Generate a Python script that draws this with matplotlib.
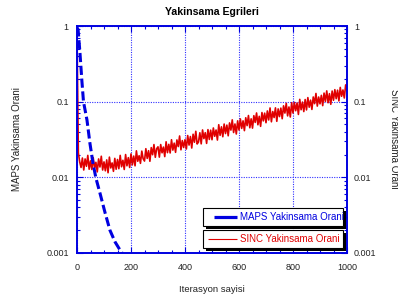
import numpy as np
import matplotlib
matplotlib.use("Agg")
import matplotlib.pyplot as plt
from matplotlib.patches import Rectangle
from matplotlib.ticker import LogLocator, NullFormatter, MultipleLocator

plt.rcParams['font.family'] = ['Liberation Sans', 'DejaVu Sans']

# MAPS convergence
maps_x = [0, 4, 11, 18, 24, 37, 48, 59, 70, 85, 104, 122, 141, 159, 167]
maps_y = [0.95, 0.9, 0.44, 0.19, 0.1, 0.057, 0.028, 0.0155, 0.0098, 0.0062,
          0.0034, 0.002, 0.0014, 0.0011, 0.001]

# SINC convergence, every 5 iterations
sinc_x = np.arange(0, 1001, 5)
sinc_y = [
    0.80, 0.021, 0.016, 0.0135, 0.018, 0.0125, 0.0175, 0.014, 0.0195, 0.0128,
    0.0165, 0.0127, 0.0182, 0.0132, 0.0158, 0.0118, 0.0175, 0.0137, 0.0190, 0.0125,
    0.0160, 0.0122, 0.0170, 0.0115, 0.0185, 0.0133, 0.0155, 0.0120, 0.0178, 0.0128,
    0.0172, 0.0130, 0.0195, 0.0138, 0.0168, 0.0127, 0.0200, 0.0142, 0.0182, 0.0135,
    0.0204, 0.0146, 0.0191, 0.0142, 0.0224, 0.0163, 0.0193, 0.0153, 0.0222, 0.0176,
    0.0164, 0.0239, 0.0178, 0.0225, 0.0163, 0.0247, 0.0199, 0.0271, 0.0184, 0.0239,
    0.0253, 0.0185, 0.0271, 0.0211, 0.0251, 0.0188, 0.0295, 0.0212, 0.0273, 0.0210,
    0.0314, 0.0229, 0.0283, 0.0214, 0.0312, 0.0255, 0.0352, 0.0231, 0.0306, 0.0248,
    0.0314, 0.0237, 0.0357, 0.0267, 0.0346, 0.0244, 0.0371, 0.0291, 0.0406, 0.0276,
    0.0293, 0.0388, 0.0277, 0.0423, 0.0325, 0.0389, 0.0281, 0.0427, 0.0317, 0.0420,
    0.0314, 0.0449, 0.0349, 0.0422, 0.0311, 0.0496, 0.0359, 0.0465, 0.0344, 0.0506,
    0.0379, 0.0490, 0.0354, 0.0524, 0.0421, 0.0575, 0.0391, 0.0507, 0.0374, 0.0558,
    0.0422, 0.0592, 0.0443, 0.0558, 0.0414, 0.0613, 0.0482, 0.0656, 0.0452, 0.0593,
    0.0447, 0.0653, 0.0532, 0.0709, 0.0495, 0.0640, 0.0472, 0.0718, 0.0557, 0.0705,
    0.0527, 0.0754, 0.0573, 0.0826, 0.0542, 0.0741, 0.0617, 0.0828, 0.0550, 0.0802,
    0.0635, 0.0822, 0.0595, 0.0881, 0.0707, 0.0950, 0.0649, 0.0851, 0.0627, 0.0969,
    0.0708, 0.0978, 0.0759, 0.0961, 0.0678, 0.1073, 0.0782, 0.0987, 0.0740, 0.1067,
    0.0778, 0.1131, 0.0845, 0.1047, 0.0790, 0.1153, 0.0941, 0.1284, 0.0874, 0.1152,
    0.0936, 0.1212, 0.0886, 0.1298, 0.1008, 0.1388, 0.0968, 0.1276, 0.0923, 0.1381,
    0.1044, 0.1441, 0.1095, 0.1418, 0.1024, 0.1543, 0.1179, 0.1428, 0.1118, 0.1666,
    0.140,
]

yticks = [0.001, 0.01, 0.1, 1]
ytick_labels = ['0.001', '0.01', '0.1', '1']
xticks = [0, 200, 400, 600, 800, 1000]

BLUE = '#0000e0'
RED = '#e00000'

fig = plt.figure(figsize=(3.98, 2.96), dpi=100)
ax = fig.add_axes([77/398, 1-253/296, 270/398, 227/296])

ax.plot(sinc_x, sinc_y, color=RED, lw=1.2, zorder=2)
ax.plot(maps_x, maps_y, color=BLUE, lw=2.2, ls=(0, (3, 1.2)), zorder=3)

ax.set_yscale('log')
ax.set_xlim(0, 1000)
ax.set_ylim(0.001, 1)
ax.set_xticks(xticks)
ax.set_xticklabels([str(v) for v in xticks])
ax.xaxis.set_minor_locator(MultipleLocator(50))
ax.set_yticks(yticks)
ax.set_yticklabels(ytick_labels)
ax.yaxis.set_minor_locator(LogLocator(base=10, subs=np.arange(2, 10)))
ax.yaxis.set_minor_formatter(NullFormatter())
ax.grid(True, which='major', color='#3030ff', ls=(0, (1, 1.2)), lw=0.8)
ax.tick_params(which='both', direction='in', color=BLUE, top=True,
               labelsize=6.5, labelcolor='#222222')
ax.tick_params(which='major', length=4, width=0.8, pad=6)
ax.tick_params(which='minor', length=2.5, width=0.8)
ax.tick_params(axis='x', pad=7)
for s in ax.spines.values():
    s.set_color(BLUE)
    s.set_linewidth(1.2)

ax2 = ax.twinx()
ax2.set_yscale('log')
ax2.set_ylim(0.001, 1)
ax2.set_yticks(yticks)
ax2.set_yticklabels(ytick_labels)
ax2.yaxis.set_minor_locator(LogLocator(base=10, subs=np.arange(2, 10)))
ax2.yaxis.set_minor_formatter(NullFormatter())
ax2.tick_params(which='both', direction='in', color=BLUE, labelsize=6.5,
                labelcolor='#222222', pad=5)
ax2.tick_params(which='major', length=4, width=0.8)
ax2.tick_params(which='minor', length=2.5, width=0.8)
for s in ax2.spines.values():
    s.set_color(BLUE)
    s.set_linewidth(1.2)

# two separate legend boxes with a hard black shadow, drawn by hand
tr = ax2.transAxes
boxes = [
    (0.198, 0.119, 0.507, 'MAPS Yakinsama Orani', BLUE, 2.3),
    (0.101, 0.022, 0.485, 'SINC Yakinsama Orani', RED, 0.8),
]
for top, bottom, hx, label, col, lw in boxes:
    ax2.add_patch(Rectangle((0.466 + 0.011, bottom - 0.013), 0.52, top - bottom,
                            transform=tr, facecolor='black', edgecolor='none',
                            clip_on=False, zorder=10))
    ax2.add_patch(Rectangle((0.466, bottom), 0.52, top - bottom, transform=tr,
                            facecolor='white', edgecolor='black', lw=0.8,
                            clip_on=False, zorder=11))
    yc = (top + bottom) / 2
    ax2.plot([hx, 0.593], [yc, yc], transform=tr, color=col, lw=lw,
             solid_capstyle='butt', clip_on=False, zorder=12)
    ax2.text(0.603, yc, label, transform=tr, color=col, fontsize=7,
             ha='left', va='center', zorder=12)

fig.text(212/398, 1-12/296, 'Yakinsama Egrileri', ha='center', va='center',
         fontsize=7.6, fontweight='bold')
fig.text(212/398, 1-289/296, 'Iterasyon sayisi', ha='center', va='center',
         fontsize=6.8, color='#222222')
fig.text(17/398, 1-139/296, 'MAPS Yakinsama Orani', ha='center', va='center',
         rotation=90, fontsize=7, color='#222222')
fig.text(394/398, 1-139/296, 'SINC Yakinsama Orani', ha='center', va='center',
         rotation=270, fontsize=7, color='#222222')

fig.savefig('out.png', dpi=100)
